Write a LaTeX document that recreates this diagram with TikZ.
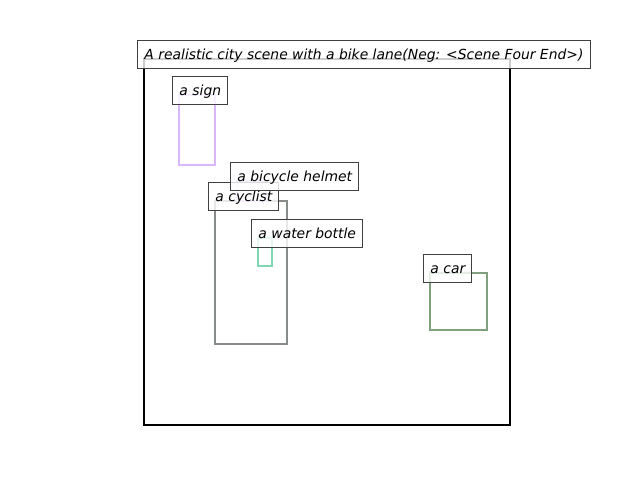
\documentclass[tikz,border=0pt]{standalone}
\usepackage{fontspec}
\setmainfont{DejaVu Sans}
\usepackage{tikz}
\usetikzlibrary{positioning}
\definecolor{signcol}{HTML}{D8B8F8}
\definecolor{cyclistcol}{HTML}{888C88}
\definecolor{helmetcol}{HTML}{D8B8F8}
\definecolor{bottlecol}{HTML}{7CD8B0}
\definecolor{carcol}{HTML}{80A080}
\definecolor{edgecol}{HTML}{404040}
\tikzset{
  lbl/.style={draw=edgecol, line width=0.7pt, fill=white, fill opacity=0.8, text opacity=1,
    font=\itshape\fontsize{10}{12}\selectfont, text height=9.3pt, text depth=2.4pt,
    inner xsep=4.8pt, inner ysep=4.3pt, anchor=base west, xshift=-4.8pt},
  objbox/.style={line width=1.5pt}
}
\begin{document}
\begin{tikzpicture}[x=0.72pt, y=-0.72pt]
    \useasboundingbox (0, 0) rectangle (640, 480);

    \draw [black, line width=1.5pt] (144, 59) rectangle (510, 425);

    \draw [objbox, signcol] (179, 95) rectangle (215, 165);
    \draw [objbox, cyclistcol] (215, 201) rectangle (287, 344);
    \draw [objbox, helmetcol] (237, 181) rectangle (266, 201);
    \draw [objbox, bottlecol] (258, 238) rectangle (272, 266);
    \draw [objbox, carcol] (430, 273) rectangle (487, 330);

    \node (title) at (144, 59) [lbl] {A realistic city scene with a bike lane(Neg: <Scene Four End>)};
    \node (sign) at (179, 95) [lbl] {a sign};
    \node (cyclist) at (215, 201) [lbl] {a cyclist};
    \node (helmet) at (237, 181) [lbl] {a bicycle helmet};
    \node (bottle) at (258, 238) [lbl] {a water bottle};
    \node (car) at (430, 273) [lbl] {a car};
\end{tikzpicture}
\end{document}
